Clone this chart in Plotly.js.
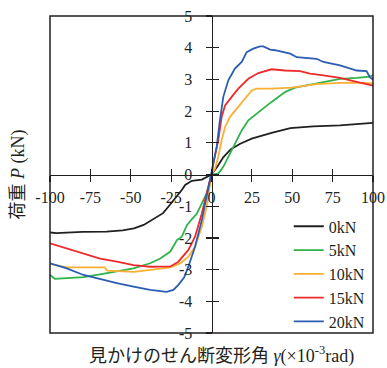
<!DOCTYPE html>
<html><head><meta charset="utf-8">
<script src="https://cdn.plot.ly/plotly-3.0.1.min.js"></script>
<style>html,body{margin:0;padding:0;background:#fff}#chart{width:387px;height:368px}</style>
</head><body><div id="chart"></div>
<script>
const seriesNames = ['0kN','5kN','10kN','15kN','20kN'];
const seriesColors = ['#231f20','#2fb34a','#fbb034','#ee2b2c','#2b5db2'];

const x0kN = [-100,-96,-80,-65,-55,-48,-42,-36,-30,-26.6,-21.5,-18.4,-16.3,-12.2,-6,0,4,7.4,12,17.8,24.9,28,37.2,48.8,63,79.5,90,100];
const y0kN = [-1.83,-1.85,-1.81,-1.80,-1.76,-1.70,-1.59,-1.41,-1.22,-1.01,-0.70,-0.49,-0.33,-0.20,-0.16,0,0.28,0.55,0.8,0.97,1.13,1.18,1.31,1.46,1.52,1.55,1.58,1.63];

const x5kN = [-100,-97,-89.6,-79.3,-69,-58.6,-48.3,-38,-31.7,-25.5,-21.4,-18.4,-15.2,-12,-9,-6,-3,0,4.2,7.3,10.4,14.5,18.7,22.8,29,37.2,45.5,51.7,59,69.3,79.6,89.9,98,100];
const y5kN = [-3.17,-3.29,-3.27,-3.24,-3.15,-3.06,-2.96,-2.80,-2.65,-2.43,-2.07,-1.96,-1.60,-1.40,-1.23,-0.91,-0.6,0,0.03,0.24,0.55,0.97,1.39,1.71,1.97,2.29,2.60,2.74,2.81,2.92,3.02,3.05,3.09,3.13];

const x10kN = [-100,-89.6,-69,-66,-64.6,-48,-37.8,-25.5,-19.2,-14.3,-10.2,-6,-3,0,2.2,4.2,6.3,8.4,11.5,16.6,20.7,24.9,28,37.2,49.6,59,65,79.6,90,100];
const y10kN = [-2.82,-2.93,-2.93,-2.93,-3.03,-3.07,-3.01,-2.93,-2.80,-2.59,-2.28,-1.65,-1.02,0,0.19,0.56,1.08,1.50,1.82,2.15,2.39,2.65,2.71,2.71,2.74,2.81,2.85,2.89,2.90,2.87];

const x15kN = [-100,-89.6,-79.3,-69,-58.6,-48.3,-38,-25.5,-20.5,-14.3,-10.2,-6,-3,0,1.1,4.2,6.3,8.4,12.5,16.6,22.8,29,37.2,45.5,54.8,61,69.3,79.6,89.9,100];
const y15kN = [-2.17,-2.33,-2.49,-2.65,-2.75,-2.86,-2.91,-2.90,-2.75,-2.38,-1.96,-1.23,-0.60,0,0.35,1.08,1.82,2.18,2.45,2.71,3.02,3.20,3.32,3.28,3.26,3.18,3.13,3.05,2.92,2.80];

const x20kN = [-100,-89.6,-79.3,-69,-58.6,-48.3,-38,-27.7,-23.6,-20.5,-17,-14.3,-10.2,-6,-3,0,3.2,5.2,7.3,10.4,14.5,18.7,21.8,25.9,30,32.1,36.3,39.3,48.7,52.8,65,69.3,79.6,89.9,96,98,100];
const y20kN = [-2.80,-2.96,-3.17,-3.31,-3.43,-3.54,-3.64,-3.70,-3.64,-3.48,-3.25,-2.90,-2.28,-1.44,-0.70,0,0.87,1.71,2.45,2.97,3.34,3.55,3.86,3.97,4.04,4.04,3.94,3.92,3.81,3.70,3.65,3.55,3.44,3.28,3.26,3.07,3.0];

const xTickVals = [-100,-75,-50,-25,0,25,50,75,100];
const xTickText = ['-100','-75','-50','-25','0','25','50','75','100'];
const yTickVals = [-5,-4,-3,-2,-1,0,1,2,3,4,5];
const yTickText = ['-5','-4','-3','-2','-1','0','1','2','3','4','5'];
const xTitle = '見かけのせん断変形角 <i>γ</i>(×10<sup>-3</sup>rad)';
const yTitle = '荷重 <i>P</i> (kN)';

const xs = [x0kN,x5kN,x10kN,x15kN,x20kN];
const ys = [y0kN,y5kN,y10kN,y15kN,y20kN];

const FONT = '"Liberation Serif", "Times New Roman", "Noto Sans CJK JP", serif';

const traces = seriesNames.map((n,i)=>({
  x: xs[i], y: ys[i], name: n, type:'scatter', mode:'lines',
  line:{color:seriesColors[i], width:1.8}
}));

const layout = {
  width:387, height:368,
  margin:{l:50, r:14, t:16, b:35},
  paper_bgcolor:'#fff', plot_bgcolor:'#fff',
  font:{family:FONT, size:16, color:'#231f20'},
  showlegend:true,
  legend:{x:0.99, y:0.39, xanchor:'right', yanchor:'top', bgcolor:'rgba(0,0,0,0)',
          font:{family:FONT, size:16, color:'#231f20'}, tracegroupgap:0, itemwidth:30},
  xaxis:{range:[-100,100], anchor:'free', position:0.5, showgrid:false, zeroline:false,
    showline:true, linecolor:'#231f20', linewidth:1.5,
    tickvals:xTickVals, ticktext:xTickText, ticks:'outside', ticklen:6, tickwidth:1.2, tickcolor:'#231f20',
    ticklabelstandoff:2, tickfont:{family:FONT, size:16}},
  yaxis:{range:[-5,5], anchor:'free', position:0.5, showgrid:false, zeroline:false,
    showline:true, linecolor:'#231f20', linewidth:1.5,
    tickvals:yTickVals, ticktext:yTickText, ticks:'outside', ticklen:6, tickwidth:1.2, tickcolor:'#231f20',
    ticklabelstandoff:10, tickfont:{family:FONT, size:16}},
  xaxis2:{range:[-100,100], overlaying:'x', anchor:'free', position:0.5, showgrid:false, zeroline:false,
    showline:false, tickvals:xTickVals, showticklabels:false, ticks:'inside', ticklen:6, tickwidth:1.2, tickcolor:'#231f20'},
  yaxis2:{range:[-5,5], overlaying:'y', anchor:'free', position:0.5, showgrid:false, zeroline:false,
    showline:false, tickvals:yTickVals, showticklabels:false, ticks:'inside', ticklen:6, tickwidth:1.2, tickcolor:'#231f20'},
  shapes:[{type:'rect', xref:'paper', yref:'paper', x0:0, x1:1, y0:0, y1:1,
    line:{color:'#231f20', width:1.5}, layer:'above'}],
  annotations:[
    {text:xTitle, xref:'paper', yref:'paper', x:0.53, y:-0.068, xanchor:'center', yanchor:'middle',
     showarrow:false, font:{family:FONT, size:18, color:'#231f20'}},
    {text:yTitle, xref:'paper', yref:'paper', x:-0.099, y:0.5, xanchor:'center', yanchor:'middle',
     textangle:-90, showarrow:false, font:{family:FONT, size:18, color:'#231f20'}}
  ]
};

traces.push({x:[0], y:[0], xaxis:'x2', yaxis:'y2', mode:'markers', marker:{opacity:0}, showlegend:false, hoverinfo:'skip'});

Plotly.newPlot('chart', traces, layout, {staticPlot:true, displayModeBar:false});
</script></body></html>
